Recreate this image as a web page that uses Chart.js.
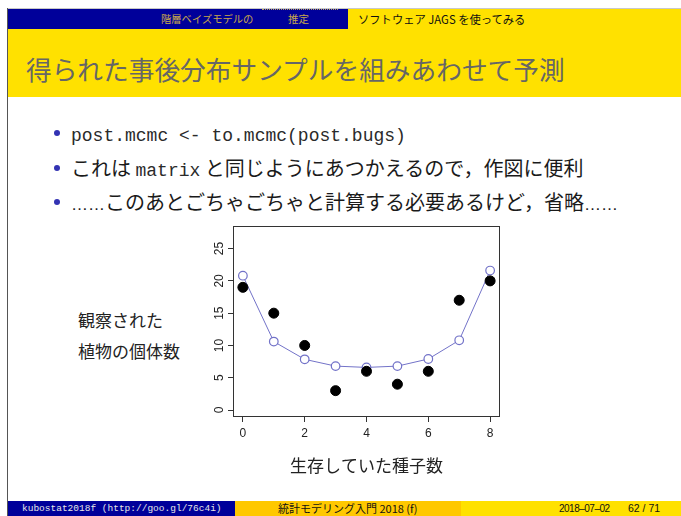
<!DOCTYPE html>
<html>
<head>
<meta charset="utf-8">
<script src="https://cdn.jsdelivr.net/npm/chart.js@4.4.1/dist/chart.umd.min.js"></script>
<style>
body { margin: 0; width: 681px; height: 516px; background: #fff; position: relative; overflow: hidden; font-family: "Noto Sans CJK JP", "Noto Sans", sans-serif; }
.abs { position: absolute; white-space: nowrap; }
.bullet { position: absolute; width: 6px; height: 6px; border-radius: 50%; background: #3333b3; left: 54px; }
.line { position: absolute; left: 71px; height: 30px; line-height: 30px; font-size: 20px; color: #1a1a1a; white-space: nowrap; }
.tt { font-family: "Liberation Mono", monospace; font-size: 18px; color: #2a2a2a; }
.dots { font-family: "Liberation Sans", sans-serif; font-size: 17px; }
.foot { position: absolute; top: 501px; height: 15px; line-height: 15px; font-size: 10.5px; white-space: nowrap; }
</style>
</head>
<body>
<div class="abs" style="left:7px;top:8px;width:674px;height:1px;background:#c8c8c8"></div>
<div class="abs" style="left:7px;top:8px;width:1px;height:508px;background:#555"></div>

<div class="abs" style="left:8px;top:9px;width:340px;height:20px;background:#00009a"></div>
<div class="abs" style="left:348px;top:9px;width:333px;height:20px;background:#ffe100"></div>
<div class="abs" style="left:262px;top:9px;width:76px;height:0;border-top:1.5px dotted #b8a060"></div>
<div class="abs" style="left:161px;top:9px;height:20px;line-height:20px;font-size:10.3px;color:#c9a84a">階層ベイズモデルの</div>
<div class="abs" style="left:288px;top:9px;height:20px;line-height:20px;font-size:10.5px;color:#c9a84a">推定</div>
<div class="abs" style="left:358px;top:9px;height:20px;line-height:20px;font-size:11.3px;color:#111">ソフトウェア JAGS を使ってみる</div>

<div class="abs" style="left:8px;top:29px;width:673px;height:68px;background:#ffe100"></div>
<div class="abs" style="left:26px;top:51px;height:36px;line-height:36px;font-size:25.7px;color:#666">得られた事後分布サンプルを組みあわせて予測</div>

<div class="bullet" style="top:130px"></div>
<div class="line" style="top:118px"><span class="tt">post.mcmc &lt;- to.mcmc(post.bugs)</span></div>
<div class="bullet" style="top:165px"></div>
<div class="line" style="top:153px">これは <span class="tt">matrix</span> と同じようにあつかえるので，作図に便利</div>
<div class="bullet" style="top:199px"></div>
<div class="line" style="top:187px"><span class="dots">……</span>このあとごちゃごちゃと計算する必要あるけど，省略<span class="dots">……</span></div>

<div class="abs" style="left:78px;top:308px;line-height:24px;font-size:17px;color:#222">観察された</div>
<div class="abs" style="left:78px;top:339px;line-height:24px;font-size:17px;color:#222">植物の個体数</div>

<canvas id="plot" width="320" height="264" style="position:absolute;left:190px;top:216px"></canvas>

<div class="foot" style="left:8px;width:227px;background:#00009a"></div>
<div class="foot" style="left:235px;width:226px;background:#ffc800"></div>
<div class="foot" style="left:461px;width:220px;background:#ffe100"></div>
<div class="foot" style="left:22px;color:#e6e6e6;font-family:'Liberation Mono',monospace;font-size:9.5px">kubostat2018f (http://goo.gl/76c4i)</div>
<div class="foot" style="left:278px;color:#111;font-size:11px">統計モデリング入門 2018 (f)</div>
<div class="foot" style="left:559px;color:#111;font-family:'Liberation Sans',sans-serif;font-size:10px;letter-spacing:-0.5px">2018–07–02</div>
<div class="foot" style="left:628px;color:#111;font-family:'Liberation Sans',sans-serif;font-size:10.5px">62 / 71</div>

<script>
// surviving seeds (x), observed plant counts, posterior prediction
const seeds = [0, 1, 2, 3, 4, 5, 6, 7, 8];
const observed = [19, 15, 10, 3, 6, 4, 6, 17, 20];
const predicted = [20.8, 10.6, 7.85, 6.8, 6.6, 6.8, 7.9, 10.8, 21.6];
const xTicks = [0, 2, 4, 6, 8];
const yTicks = [0, 5, 10, 15, 20, 25];

const boxPlugin = {
    id: 'box',
    afterDraw(chart) {
        const a = chart.chartArea;
        const ctx = chart.ctx;
        ctx.save();
        ctx.strokeStyle = '#333';
        ctx.lineWidth = 1;
        ctx.strokeRect(Math.round(a.left) + 0.5, Math.round(a.top) + 0.5,
            Math.round(a.right - a.left) - 1, Math.round(a.bottom - a.top) - 1);
        ctx.restore();
    }
};

const tickFont = { family: 'Liberation Sans', size: 12 };

new Chart(document.getElementById('plot').getContext('2d'), {
    type: 'scatter',
    data: {
        datasets: [{
            data: seeds.map((s, i) => ({ x: s, y: observed[i] })),
            pointRadius: 5,
            pointBackgroundColor: '#000',
            pointBorderColor: '#000',
            pointBorderWidth: 1,
            showLine: false
        }, {
            data: seeds.map((s, i) => ({ x: s, y: predicted[i] })),
            pointRadius: 4.3,
            pointBackgroundColor: '#fff',
            pointBorderColor: '#7272c8',
            pointBorderWidth: 1.2,
            borderColor: '#7272c8',
            borderWidth: 1,
            showLine: true
        }]
    },
    options: {
        responsive: false,
        devicePixelRatio: 1,
        animation: false,
        layout: { padding: { top: 10, right: 10, left: 0, bottom: 0 } },
        plugins: { legend: { display: false }, tooltip: { enabled: false } },
        scales: {
            x: {
                type: 'linear',
                min: -0.32,
                max: 8.32,
                afterBuildTicks: scale => { scale.ticks = xTicks.map(v => ({ value: v })); },
                afterFit: scale => { scale.height = 63; },
                grid: { drawOnChartArea: false, tickLength: 5, color: '#333' },
                border: { display: false },
                ticks: { font: tickFont, color: '#222', padding: 4, autoSkip: false, maxRotation: 0 },
                title: {
                    display: true,
                    text: '生存していた種子数',
                    font: { family: 'Noto Sans CJK JP', size: 17 },
                    color: '#222',
                    padding: { top: 0, bottom: 4 }
                }
            },
            y: {
                type: 'linear',
                min: -1.08,
                max: 28.5,
                afterBuildTicks: scale => { scale.ticks = yTicks.map(v => ({ value: v })); },
                afterFit: scale => { scale.width = 43; },
                grid: { drawOnChartArea: false, tickLength: 5, color: '#333' },
                border: { display: false },
                ticks: {
                    font: tickFont, color: '#222', padding: 2, autoSkip: false,
                    minRotation: 90, maxRotation: 90, crossAlign: 'center'
                }
            }
        }
    },
    plugins: [boxPlugin]
});
</script>
</body>
</html>
